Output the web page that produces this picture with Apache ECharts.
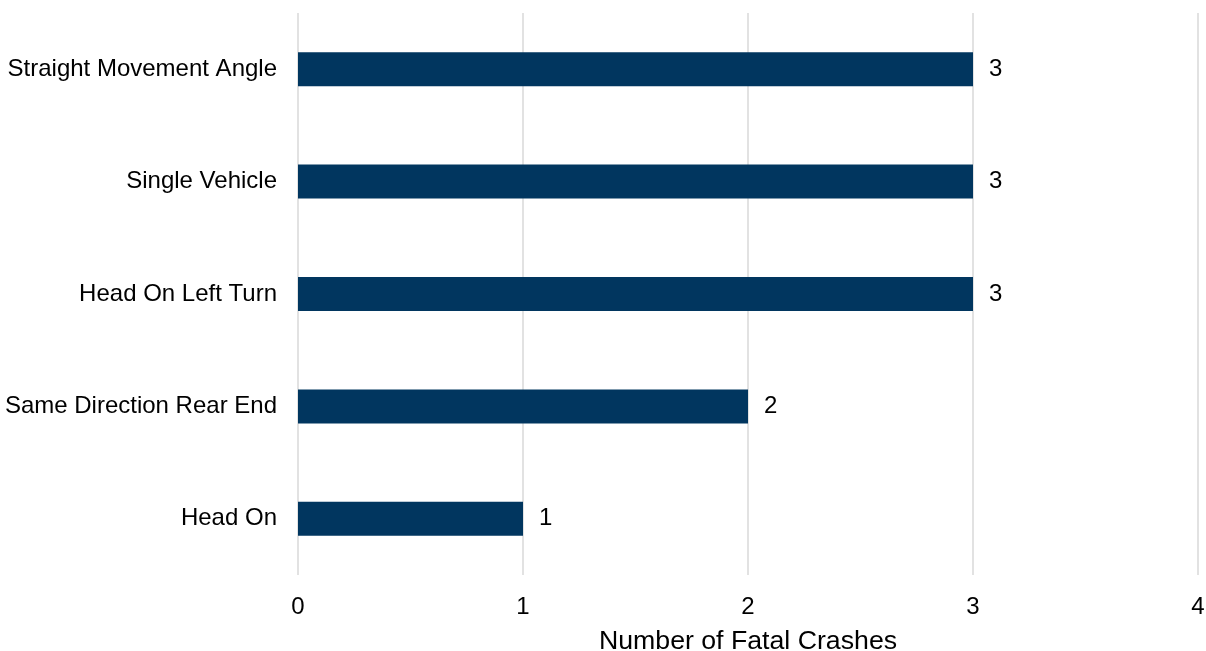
<!DOCTYPE html>
<html>
<head>
<meta charset="utf-8">
<script src="https://cdn.jsdelivr.net/npm/echarts@6/dist/echarts.min.js"></script>
<style>html,body{margin:0;padding:0;background:#fff}#c{width:1206px;height:651px}</style>
</head>
<body>
<div id="c"></div>
<script>
const categories = ["Head On", "Same Direction Rear End", "Head On Left Turn", "Single Vehicle", "Straight Movement Angle"];
const values = [1, 2, 3, 3, 3];
const xTicks = [0, 1, 2, 3, 4];
const axisTitle = "Number of Fatal Crashes";

const font = "'Liberation Sans', Arial, sans-serif";
const chart = echarts.init(document.getElementById('c'), null, {renderer: 'canvas'});
chart.setOption({
  animation: false,
  grid: {left: 298, right: 8, top: 13, bottom: 76, containLabel: false, outerBoundsMode: 'none'},
  xAxis: {
    type: 'value', min: xTicks[0], max: xTicks[xTicks.length - 1], interval: 1,
    name: axisTitle, nameLocation: 'middle', nameGap: 53,
    nameTextStyle: {fontFamily: font, fontSize: 26.7, color: '#000'},
    axisLine: {show: false}, axisTick: {show: false},
    axisLabel: {fontFamily: font, fontSize: 24, color: '#000', margin: 20},
    splitLine: {show: true, lineStyle: {color: '#d9d9d9', width: 1.5}}
  },
  yAxis: {
    type: 'category', data: categories,
    axisLine: {show: false}, axisTick: {show: false},
    axisLabel: {fontFamily: font, fontSize: 24, color: '#000', margin: 21},
    splitLine: {show: false}
  },
  series: [{
    type: 'bar', data: values, barWidth: 34,
    itemStyle: {color: '#01365f'},
    label: {show: true, position: 'right', distance: 16, fontFamily: font, fontSize: 24, color: '#000'}
  }]
});
</script>
</body>
</html>
